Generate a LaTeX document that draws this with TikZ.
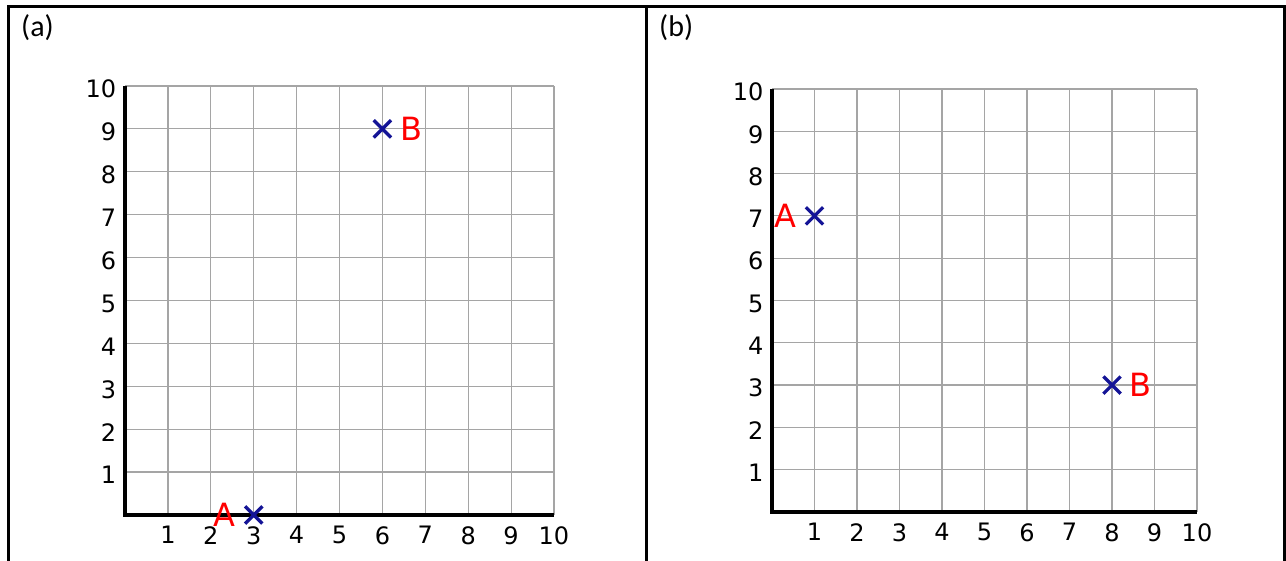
\documentclass[tikz,border=0pt]{standalone}
\usepackage{fontspec}
\setmainfont{Carlito}
\newfontfamily\axisfont{DejaVu Sans}
\usetikzlibrary{positioning,shapes.misc}
\definecolor{markblue}{RGB}{20,20,150}
\definecolor{gridgray}{RGB}{165,165,165}
\tikzset{
  frameline/.style={black, line width=3pt},
  gridline/.style={gridgray, line width=1.2pt},
  axisline/.style={black, line width=3.5pt},
  tickx/.style={anchor=north, inner sep=0pt, font=\axisfont\fontsize{24}{24}\selectfont},
  ticky/.style={anchor=east, inner sep=0pt, font=\axisfont\fontsize{24}{24}\selectfont},
  crossmark/.style={cross out, draw=markblue, line width=3.3pt, minimum size=14pt, inner sep=0pt},
  ptlabel/.style={text=red, inner sep=0pt, font=\axisfont\fontsize{32}{32}\selectfont},
  panel/.style={anchor=west, inner sep=0pt, font=\fontsize{30}{30}\selectfont}
}

\begin{document}
\begin{tikzpicture}[x=1pt,y=1pt]
  \useasboundingbox (0,0) rectangle (1286,561);
  % table frame
  \draw[frameline] (8,0) -- (8,554) -- (1284,554) -- (1284,0);
  \draw[frameline] (646,0) -- (646,554);
  \node[panel] (lbla) at (21,533) {(a)};
  \node[panel] (lblb) at (659,533) {(b)};

  % panel (a)
  \begin{scope}[shift={(125,46)}, x=42.9pt, y=42.9pt]
    \foreach \i in {1,...,10} {
      \draw[gridline] (\i,0) -- (\i,10);
      \draw[gridline] (0,\i) -- (10,\i);
      \node[tickx] (ax\i) at (\i,-0.26) {\i};
      \node[ticky, yshift=-3pt] (ay\i) at (-0.2,\i) {\i};
    }
    \draw[axisline] (0,10) -- (0,0) -- (10,0);
    \node[crossmark] (aA) at (3,0) {};
    \node[ptlabel, left=9pt of aA] (aAl) {A};
    \node[crossmark] (aB) at (6,9) {};
    \node[ptlabel, right=9pt of aB] (aBl) {B};
  \end{scope}

  % panel (b)
  \begin{scope}[shift={(772,49)}, x=42.5pt, y=42.3pt]
    \foreach \i in {1,...,10} {
      \draw[gridline] (\i,0) -- (\i,10);
      \draw[gridline] (0,\i) -- (10,\i);
      \node[tickx] (bx\i) at (\i,-0.26) {\i};
      \node[ticky, yshift=-3pt] (by\i) at (-0.2,\i) {\i};
    }
    \draw[axisline] (0,10) -- (0,0) -- (10,0);
    \node[crossmark] (bA) at (1,7) {};
    \node[ptlabel, left=9pt of bA] (bAl) {A};
    \node[crossmark] (bB) at (8,3) {};
    \node[ptlabel, right=9pt of bB] (bBl) {B};
  \end{scope}
\end{tikzpicture}
\end{document}
